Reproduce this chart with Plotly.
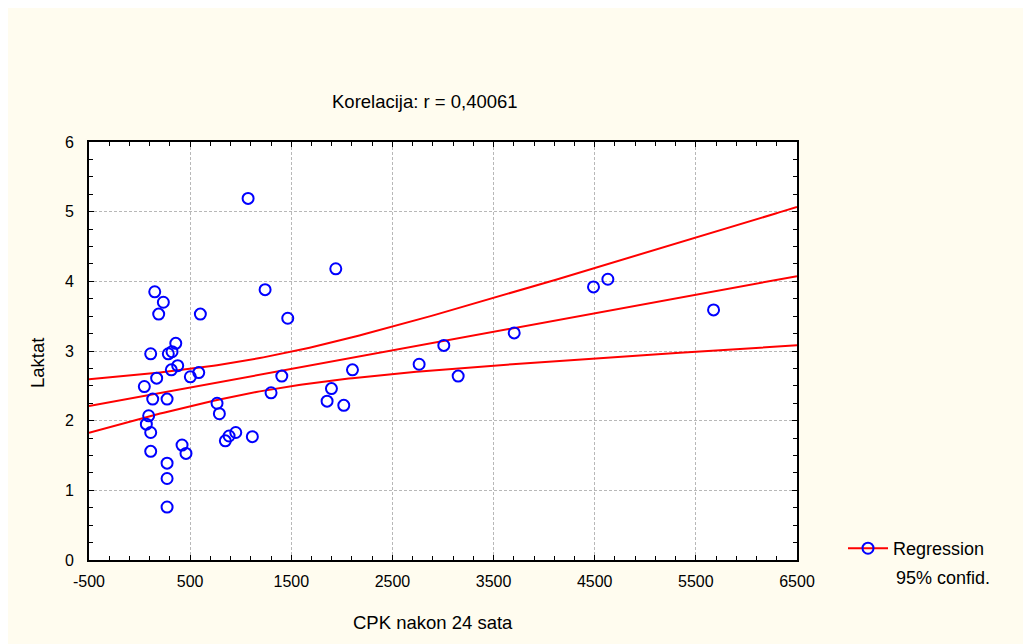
import numpy as np
import plotly.graph_objects as go

# Data
cpk = [1073, 1940, 1241, 1465, 601, 150, 235, 189, 358, 110, 284, 321, 377, 314,
       169, 502, 585, 47, 130, 272, 90, 67, 110, 110, 272, 272, 272, 420, 459,
       766, 789, 848, 885, 951, 1115, 1300, 1406, 1854, 1897, 2019, 2105,
       2764, 3008, 3150, 3704, 4488, 4630, 5675]
laktat = [5.19, 4.18, 3.88, 3.47, 3.53, 3.85, 3.70, 3.53, 3.11, 2.96, 2.96, 2.99,
          2.79, 2.73, 2.61, 2.63, 2.69, 2.49, 2.31, 2.31, 2.07, 1.95, 1.83, 1.56,
          1.39, 1.17, 0.76, 1.65, 1.53, 2.25, 2.10, 1.71, 1.78, 1.83, 1.77, 2.40,
          2.64, 2.28, 2.46, 2.22, 2.73, 2.81, 3.08, 2.64, 3.26, 3.92, 4.03, 3.59]

x_range = [-500, 6500]
y_range = [0, 6]
x_tickvals = [-500, 500, 1500, 2500, 3500, 4500, 5500, 6500]
x_ticktext = ["-500", "500", "1500", "2500", "3500", "4500", "5500", "6500"]
y_tickvals = [0, 1, 2, 3, 4, 5, 6]
y_ticktext = ["0", "1", "2", "3", "4", "5", "6"]
title_text = "Korelacija: r = 0,40061"
x_title = "CPK nakon 24 sata"
y_title = "Laktat"
legend_names = ["Regression", "95% confid."]

# Regression and 95% confidence band computed from the data
x = np.array(cpk, float)
y = np.array(laktat, float)
n = len(x)
b, a = np.polyfit(x, y, 1)
resid = y - (a + b * x)
s = np.sqrt(np.sum(resid ** 2) / (n - 2))
sxx = np.sum((x - x.mean()) ** 2)
t_crit = 2.0141
xs = np.linspace(x_range[0], x_range[1], 200)
yfit = a + b * xs
half = t_crit * s * np.sqrt(1.0 / n + (xs - x.mean()) ** 2 / sxx)

cream = "#FFFCEF"
red = "#FF0000"
blue = "#0000FF"
font = "Liberation Sans, Arial, sans-serif"

fig = go.Figure()
for yy in (yfit, yfit + half, yfit - half):
    fig.add_trace(go.Scatter(x=xs, y=yy, mode="lines", line=dict(color=red, width=2),
                             showlegend=False, hoverinfo="skip"))
fig.add_trace(go.Scatter(x=cpk, y=laktat, mode="markers",
                         marker=dict(symbol="circle-open", size=11, color=blue,
                                     line=dict(width=2, color=blue)),
                         showlegend=False))
# legend entry
fig.add_trace(go.Scatter(x=[None], y=[None], mode="lines+markers",
                         name=legend_names[0],
                         line=dict(color=red, width=2),
                         marker=dict(symbol="circle-open", size=11, color=blue,
                                     line=dict(width=2, color=blue))))

# page body has an 8px margin; positions below are in figure pixels
W, H = 1031, 644
L, T = 81, 134
pw, ph = 708, 418
R, B = W - L - pw, H - T - ph


def px(xp):
    return (xp - L) / pw


def py(yp):
    return (T + ph - yp) / ph


axis_common = dict(showline=True, linecolor="black", linewidth=2, mirror="allticks",
                   ticks="inside", ticklen=5, tickcolor="black", tickwidth=1,
                   showgrid=True, gridcolor="#B8B8B8", griddash="3px,2px", gridwidth=1,
                   zeroline=False, tickfont=dict(family=font, size=16, color="black"))

fig.update_layout(
    width=W, height=H,
    margin=dict(l=L, r=R, t=T, b=B, pad=0),
    paper_bgcolor=cream, plot_bgcolor="white",
    font=dict(family=font, color="black"),
    xaxis=dict(range=x_range, tickmode="array", tickvals=x_tickvals, ticktext=x_ticktext,
               ticklabelstandoff=6,
               minor=dict(dtick=200, tick0=-500, ticks="inside", ticklen=4,
                          tickcolor="black", showgrid=False),
               **axis_common),
    yaxis=dict(range=y_range, tickmode="array", tickvals=y_tickvals, ticktext=y_ticktext,
               ticklabelstandoff=10,
               minor=dict(dtick=0.25, tick0=0, ticks="inside", ticklen=4,
                          tickcolor="black", showgrid=False),
               **axis_common),
    showlegend=True,
    legend=dict(x=px(835), y=py(522), xanchor="left", yanchor="top",
                bgcolor="rgba(0,0,0,0)", itemwidth=40,
                font=dict(family=font, size=18, color="black")),
    annotations=[
        dict(text=title_text, x=px(417), y=py(93), xref="paper", yref="paper",
             showarrow=False, xanchor="center", yanchor="middle",
             font=dict(family=font, size=18.5, color="black")),
        dict(text=x_title, x=px(425), y=py(614), xref="paper", yref="paper",
             showarrow=False, xanchor="center", yanchor="middle",
             font=dict(family=font, size=18.5, color="black")),
        dict(text=y_title, x=px(29), y=py(355), xref="paper", yref="paper",
             showarrow=False, xanchor="center", yanchor="middle", textangle=-90,
             font=dict(family=font, size=18.5, color="black")),
        dict(text=legend_names[1], x=px(886), y=py(570), xref="paper", yref="paper",
             showarrow=False, xanchor="left", yanchor="middle",
             font=dict(family=font, size=18, color="black")),
    ],
)

fig.write_html("out.html")
